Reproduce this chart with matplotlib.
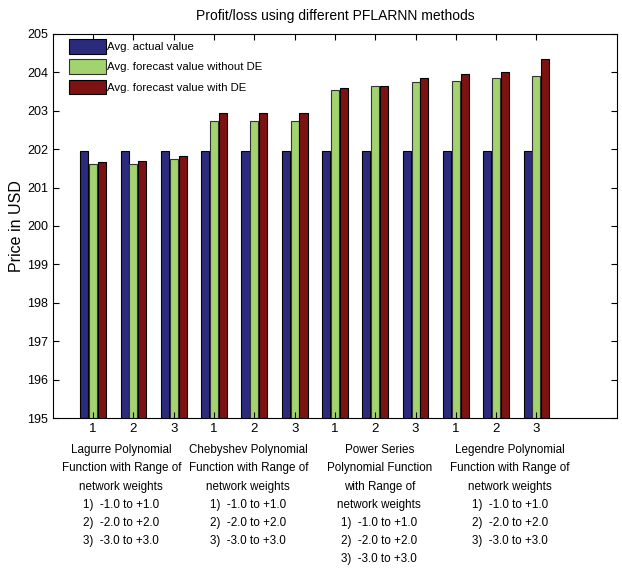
import numpy as np
import matplotlib
matplotlib.use("Agg")
import matplotlib.pyplot as plt

# -----------------------------
# DATA
# -----------------------------

tick_labels = ["1", "2", "3"] * 4

actual = [201.95] * 12
without_de = [201.61, 201.61, 201.74, 202.73, 202.73, 202.73,
              203.54, 203.63, 203.74, 203.78, 203.84, 203.91]
with_de = [201.66, 201.69, 201.81, 202.93, 202.93, 202.93,
           203.59, 203.65, 203.86, 203.95, 204.00, 204.34]

series_names = ["Avg. actual value",
                "Avg. forecast value without DE",
                "Avg. forecast value with DE"]

group_texts = [
    "Lagurre Polynomial\nFunction with Range of\nnetwork weights\n1)  -1.0 to +1.0\n2)  -2.0 to +2.0\n3)  -3.0 to +3.0",
    "Chebyshev Polynomial\nFunction with Range of\nnetwork weights\n1)  -1.0 to +1.0\n2)  -2.0 to +2.0\n3)  -3.0 to +3.0",
    "Power Series\nPolynomial Function\nwith Range of\nnetwork weights\n1)  -1.0 to +1.0\n2)  -2.0 to +2.0\n3)  -3.0 to +3.0",
    "Legendre Polynomial\nFunction with Range of\nnetwork weights\n1)  -1.0 to +1.0\n2)  -2.0 to +2.0\n3)  -3.0 to +3.0",
]
group_centers = [1.7, 4.85, 8.1, 11.35]

# -----------------------------
# PLOT
# -----------------------------

plt.rcParams["font.family"] = ["Liberation Sans", "DejaVu Sans"]

fig = plt.figure(figsize=(6.22, 5.72), dpi=100)
ax = fig.add_axes([0.085, 0.269, 0.907, 0.672])

x = np.arange(1, 13)
w = 0.2
off = 0.22

ax.bar(x - off, actual, w, color="#2b2b7d", edgecolor="black", linewidth=0.8, label=series_names[0])
ax.bar(x, without_de, w, color="#a2d36f", edgecolor="#333333", linewidth=0.8, label=series_names[1])
ax.bar(x + off, with_de, w, color="#7d1212", edgecolor="black", linewidth=0.8, label=series_names[2])

ax.set_xlim(0, 14)
ax.set_ylim(195, 205)
ax.set_yticks(range(195, 206))
ax.set_xticks(x)
ax.set_xticklabels(tick_labels, fontsize=9.5)
ax.tick_params(axis="y", labelsize=9)
ax.tick_params(direction="in", top=True, right=True, length=4)

ax.set_title("Profit/loss using different PFLARNN methods", fontsize=10, pad=10)
ax.set_ylabel("Price in USD", fontsize=11.5, labelpad=2)

ax.legend(loc="upper left", bbox_to_anchor=(0.02, 0.998), frameon=False, fontsize=8.2,
          handlelength=3.3, handleheight=1.6, borderaxespad=0, labelspacing=0.5,
          handletextpad=0.1)

for cx, txt in zip(group_centers, group_texts):
    ax.text(cx, -0.068, txt, transform=ax.get_xaxis_transform(), ha="center", va="top",
            fontsize=8.4, linespacing=1.68, multialignment="center")

fig.savefig("out.png", dpi=100)
